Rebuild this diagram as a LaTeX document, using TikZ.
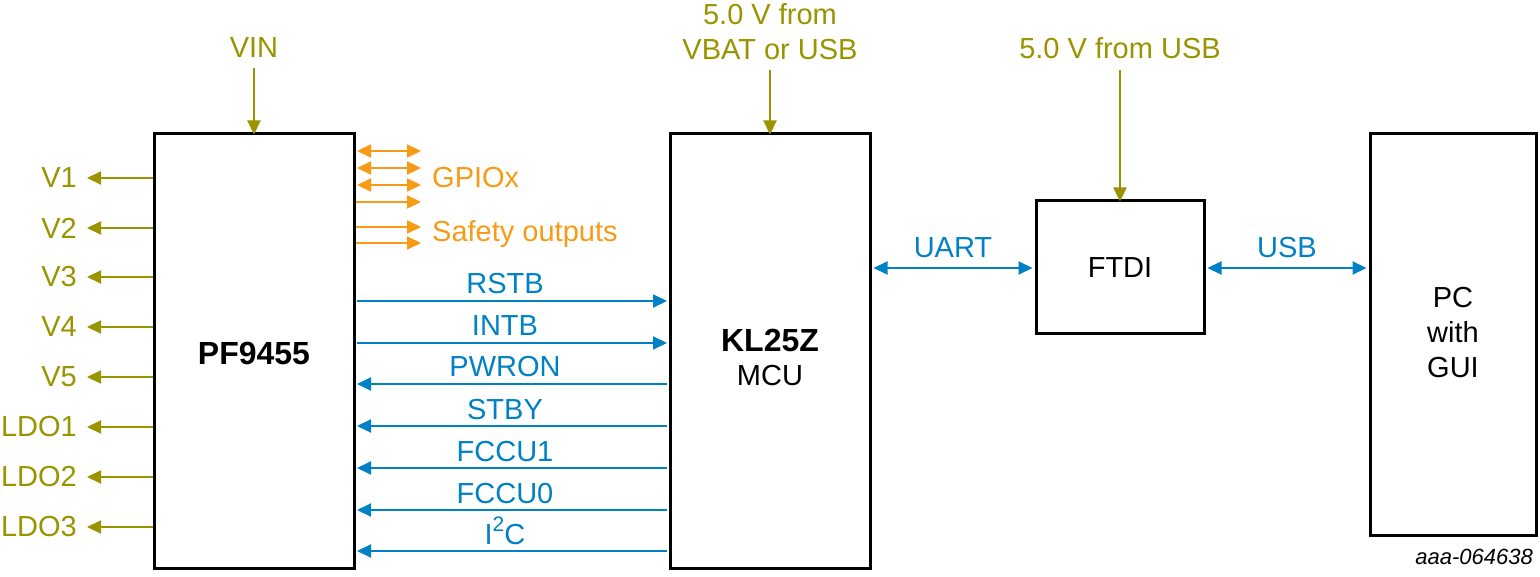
\documentclass[tikz,border=0pt]{standalone}
\usepackage{fontspec}
\setmainfont{Liberation Sans}
\usetikzlibrary{arrows.meta}
\definecolor{olive}{RGB}{153,148,0}
\definecolor{sigblue}{RGB}{0,129,197}
\definecolor{orng}{RGB}{247,155,22}
\tikzset{
  blk/.style={draw=black,line width=3pt,inner sep=0pt},
  txt/.style={inner sep=0pt,font=\fontsize{29}{34}\selectfont},
  btxt/.style={inner sep=0pt,font=\fontsize{32}{36}\selectfont\bfseries},
  tip/.tip={Triangle[length=14pt,width=13pt]},
  pwr/.style={draw=olive,line width=2pt,-tip},
  sig/.style={draw=sigblue,line width=2pt,-tip},
  bsig/.style={draw=sigblue,line width=2pt,tip-tip},
  gp/.style={draw=orng,line width=2pt,-tip},
  bgp/.style={draw=orng,line width=2pt,tip-tip},
  olbl/.style={txt,text=olive},
  slbl/.style={txt,text=sigblue,anchor=base},
}
\begin{document}
\begin{tikzpicture}[x=1pt,y=-1pt]
\useasboundingbox (0,0) rectangle (1540,577);
% blocks
\node[blk,minimum width=200pt,minimum height=434pt] (pf) at (254,351) {};
\node[btxt] at (254,353) {PF9455};
\node[blk,minimum width=200pt,minimum height=434pt] (kl) at (770,351) {};
\node[btxt] (kln) at (770,340) {KL25Z};
\node[txt] at (770,376) {MCU};
\node[blk,minimum width=168pt,minimum height=133pt] (ftdi) at (1120,267.5) {};
\node[txt] at (1120,268) {FTDI};
\node[blk,minimum width=166pt,minimum height=401pt] (pc) at (1453,334.5) {};
\node[txt,align=center] at (1453,333) {PC\\[1pt]with\\[1pt]GUI};
% power inputs
\node[olbl] (vin) at (254,48) {VIN};
\coordinate (vinA) at (254,68);
\draw[pwr] (vinA) -- ([yshift=-2pt]pf.north);
\node[olbl,align=center] (vbat) at (770,32) {5.0 V from\\[1pt]VBAT or USB};
\coordinate (vbatA) at (770,70);
\draw[pwr] (vbatA) -- ([yshift=-2pt]kl.north);
\node[olbl] (vusb) at (1120,48) {5.0 V from USB};
\coordinate (vusbA) at (1120,70);
\draw[pwr] (vusbA) -- ([yshift=-2pt]ftdi.north);
% outputs on the left
\foreach \nm/\lab/\yy in {v1/V1/178,v2/V2/228,v3/V3/277,v4/V4/327,v5/V5/377,l1/LDO1/427,l2/LDO2/477,l3/LDO3/527}{
  \node[olbl,anchor=east] (\nm) at (77,\yy) {\lab};
  \draw[pwr] (pf.west |- \nm) -- ([xshift=10pt]\nm.east);
}
% GPIO and safety
\foreach \nm/\yy in {g1/151,g2/168,g3/185}{
  \coordinate (\nm a) at (357,\yy);
  \coordinate (\nm b) at (421,\yy);
  \draw[bgp] (\nm a) -- (\nm b);
}
\foreach \nm/\yy in {g4/202,s1/227,s2/243}{
  \coordinate (\nm a) at (356,\yy);
  \coordinate (\nm b) at (421,\yy);
  \draw[gp] (\nm a) -- (\nm b);
}
\node[txt,text=orng,anchor=west] (gpio) at (432,178) {GPIOx};
\node[txt,text=orng,anchor=west] (safe) at (432,234) {Safety outputs};
% signals between PF9455 and KL25Z
\foreach \nm/\lab/\yy/\dir in {rstb/RSTB/301/1,intb/INTB/343/1,pwron/PWRON/384/0,stby/STBY/426/0,fccu1/FCCU1/468/0,fccu0/FCCU0/510/0,i2c/I\raisebox{0.42em}{\fontsize{21}{21}\selectfont 2}C/551/0}{
  \coordinate (\nm L) at ([xshift=1.5pt]pf.east |- 0,\yy);
  \coordinate (\nm R) at ([xshift=-1.5pt]kl.west |- 0,\yy);
  \ifnum\dir=1
    \draw[sig] (\nm L) -- (\nm R);
  \else
    \draw[sig] (\nm R) -- (\nm L);
  \fi
  \node[slbl] at (505,\yy-7) {\lab};
}
% UART and USB
\draw[bsig] ([xshift=2pt]kl.east |- 0,268) -- ([xshift=-2pt]ftdi.west |- 0,268);
\node[slbl] at (953,258) {UART};
\draw[bsig] ([xshift=2pt]ftdi.east |- 0,268) -- ([xshift=-2pt]pc.west |- 0,268);
\node[slbl] at (1287,258) {USB};
% figure id
\node[inner sep=0pt,anchor=east,font=\fontsize{22}{24}\selectfont\itshape] (fid) at (1533,557) {aaa-064638};
\end{tikzpicture}
\end{document}
